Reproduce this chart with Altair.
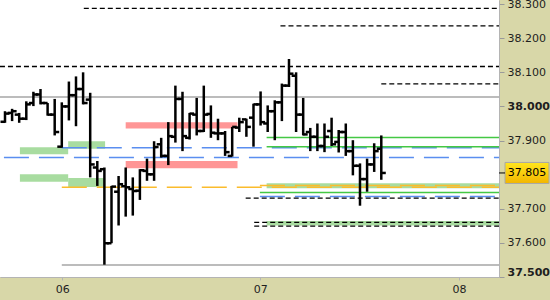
import altair as alt
import pandas as pd

# ---------------- OHLC bars (bar index 0..53) ----------------
opens = [37.955, 37.981, 37.976, 37.964, 38.010, 38.035, 38.010, 37.976, 37.882, 38.000,
         38.033, 38.051, 38.020, 37.821, 37.816, 37.599, 37.750, 37.766, 37.758, 37.753,
         37.811, 37.801, 37.889, 37.855, 37.911, 38.022, 37.908, 37.976, 37.928, 37.978,
         37.921, 37.921, 37.855, 37.938, 37.962, 37.967, 38.006, 37.950, 37.986, 38.012,
         38.061, 38.090, 37.976, 37.925, 37.911, 37.884, 37.928, 37.896, 37.925, 37.869,
         37.826, 37.787, 37.830, 37.876]
highs = [37.986, 37.993, 37.981, 38.015, 38.043, 38.051, 38.010, 38.022, 38.012, 38.073,
         38.088, 38.100, 38.040, 37.840, 37.821, 37.767, 37.796, 37.821, 37.792, 37.816,
         37.847, 37.898, 37.908, 37.954, 38.061, 38.043, 37.981, 38.025, 38.061, 38.003,
         37.964, 37.928, 37.940, 37.967, 37.964, 38.008, 38.044, 38.003, 38.018, 38.067,
         38.139, 38.100, 38.025, 37.937, 37.950, 37.950, 37.967, 37.931, 37.950, 37.901,
         37.833, 37.847, 37.892, 37.915]
lows = [37.952, 37.957, 37.952, 37.960, 38.001, 38.006, 37.973, 37.915, 37.879, 37.959,
        37.942, 38.006, 37.792, 37.767, 37.536, 37.599, 37.651, 37.677, 37.680, 37.726,
        37.782, 37.782, 37.850, 37.828, 37.894, 37.869, 37.903, 37.915, 37.925, 37.908,
        37.901, 37.855, 37.853, 37.925, 37.911, 37.882, 37.944, 37.925, 37.901, 37.957,
        38.057, 37.925, 37.915, 37.869, 37.869, 37.866, 37.884, 37.865, 37.855, 37.798,
        37.709, 37.750, 37.808, 37.785]
closes = [37.979, 37.986, 37.964, 38.006, 38.035, 38.010, 37.976, 37.925, 38.000, 38.033,
          38.051, 38.010, 37.830, 37.811, 37.599, 37.765, 37.772, 37.763, 37.752, 37.813,
          37.801, 37.881, 37.855, 37.913, 38.022, 37.913, 37.979, 37.928, 37.976, 37.923,
          37.921, 37.866, 37.940, 37.954, 37.940, 38.006, 37.954, 37.986, 38.012, 38.061,
          38.096, 37.976, 37.918, 37.911, 37.884, 37.911, 37.889, 37.925, 37.869, 37.826,
          37.787, 37.830, 37.869, 37.805]
bar_index = list(range(len(opens)))

# ---------------- axes ----------------
y_ticks = [37.5, 37.6, 37.7, 37.9, 38.0, 38.1, 38.2, 38.3]
day_pos = [8.07, 35.96, 63.94]
day_labels = ["06", "07", "08"]
last_price = [37.805]

# ---------------- horizontal levels ----------------
END = 69.6
black_dash_price = [38.2875, 38.236, 38.117, 38.066, 37.731, 37.660, 37.649]
black_dash_start = [11.1, 38.8, -0.71, 53.0, 33.9, 35.1, 35.1]
grey_price = [38.028, 37.535]
grey_start = [-0.71, 8.0]
green_line_price = [37.909, 37.882, 37.748]
green_line_start = [36.85, 36.85, 35.9]
blue_price = [37.879, 37.850, 37.736]
blue_start = [8.0, -0.15, 35.9]
orange_price = [37.763, 37.768]
orange_start = [8.0, 35.9]

red_lo = [37.935, 37.819]
red_hi = [37.954, 37.840]
red_x0 = [17.0, 17.0]
red_x1 = [32.75, 32.75]
green_lo = [37.860, 37.876, 37.779, 37.764, 37.760, 37.651]
green_hi = [37.880, 37.898, 37.801, 37.790, 37.775, 37.664]
green_x0 = [2.1, 8.9, 2.1, 8.9, 36.85, 36.85]
green_x1 = [8.9, 14.1, 8.9, 14.1, END, END]

bars = pd.DataFrame({"i": bar_index, "open": opens, "high": highs, "low": lows, "close": closes})

xs = alt.Scale(domain=[-0.704, 69.58], nice=False, zero=False)
ys = alt.Scale(domain=[37.5, 38.312], nice=False, zero=False)

lab_arr = "[" + ",".join("'%s'" % s for s in day_labels) + "]"
pos_arr = "[" + ",".join(str(p) for p in day_pos) + "]"

x_axis = alt.Axis(values=day_pos, labelExpr=f"{lab_arr}[indexof({pos_arr}, datum.value)]",
                  title=None, grid=False, domain=True, domainColor="#b4b4b4",
                  ticks=True, tickColor="#b4b4b4", tickSize=3, labelPadding=3,
                  labelFont="DejaVu Sans", labelFontSize=11, labelColor="#1e1e1e")
y_axis = alt.Axis(orient="right", values=y_ticks, format=".3f", title=None, grid=False,
                  domain=True, domainColor="#b4b4b4", tickColor="#9a9a9a", tickSize=5,
                  labelPadding=3, labelFont="DejaVu Sans", labelFontSize=11,
                  labelColor="#1e1e1e", labelFlush=True,
                  labelFontWeight={"expr": "abs(datum.value*2 - round(datum.value*2)) < 1e-6 ? 'bold' : 'normal'"})


def X(f):
    return alt.X(f, type="quantitative", scale=xs, axis=x_axis)


def Y(f):
    return alt.Y(f, type="quantitative", scale=ys, axis=y_axis)


def level_df(prices, starts):
    return pd.DataFrame({"price": prices, "x0": starts, "x1": [END] * len(prices)})


def rect_layer(lo, hi, x0, x1, color):
    df = pd.DataFrame({"lo": lo, "hi": hi, "x0": x0, "x1": x1})
    return alt.Chart(df).mark_rect(color=color, opacity=1, clip=True).encode(
        x=X("x0"), x2="x1", y=Y("lo"), y2="hi")


def line_layer(prices, starts, color, width, dash=None):
    kw = dict(color=color, strokeWidth=width, clip=True)
    if dash:
        kw["strokeDash"] = dash
    return alt.Chart(level_df(prices, starts)).mark_rule(**kw).encode(
        x=X("x0"), x2="x1", y=Y("price"))


red_rects = rect_layer(red_lo, red_hi, red_x0, red_x1, "#ff9696")
green_rects = rect_layer(green_lo, green_hi, green_x0, green_x1, "#a8dca0")

grey_lines = line_layer(grey_price, grey_start, "#a6a6a6", 1.5)
blue_lines = line_layer(blue_price, blue_start, "#5a8ef0", 1.5, [25, 10])
orange_lines = line_layer(orange_price, orange_start, "#fbbc2c", 1.5, [25, 10])
green_lines = line_layer(green_line_price, green_line_start, "#44c844", 1.5)
black_lines = line_layer(black_dash_price, black_dash_start, "black", 1.3, [5, 3])

base = alt.Chart(bars)
wick = base.mark_rule(color="black", strokeWidth=2.5).encode(x=X("i"), y=Y("low"), y2="high")
open_tick = base.mark_rule(color="black", strokeWidth=2.5, x2Offset=-4.5).encode(
    x=X("i"), x2="i", y=Y("open"))
close_tick = base.mark_rule(color="black", strokeWidth=2.5, x2Offset=4.5).encode(
    x=X("i"), x2="i", y=Y("close"))

last_df = pd.DataFrame({"price": last_price})
grad = alt.LinearGradient(gradient="linear",
                          stops=[alt.GradientStop(color="#ffe61e", offset=0),
                                 alt.GradientStop(color="#f3b600", offset=1)],
                          x1=0, x2=0, y1=0, y2=1)
last_box = alt.Chart(last_df).mark_rect(fill=grad, stroke="#a8a8a8", strokeWidth=1,
                                        yOffset=-10.5, y2Offset=10.5).encode(
    x=alt.value(505), x2=alt.value(549), y=Y("price"), y2="price")
last_tick = alt.Chart(last_df).mark_rule(color="black", strokeWidth=1).encode(
    x=alt.value(499), x2=alt.value(505), y=Y("price"))
last_text = alt.Chart(last_df).mark_text(font="DejaVu Sans", fontSize=11, color="black",
                                         align="center", baseline="middle").encode(
    x=alt.value(527), y=Y("price"), text=alt.Text("price:Q", format=".3f"))

chart = alt.layer(
    red_rects, green_rects, grey_lines, blue_lines, orange_lines, green_lines, black_lines,
    wick, open_tick, close_tick, last_box, last_tick, last_text
).properties(
    width=499, height=277, background="#d8d7a8",
    padding={"left": 0, "top": 0, "right": 51, "bottom": 23},
    autosize=alt.AutoSizeParams(type="none"),
).configure_view(fill="white", stroke=None)

chart.save("out.html", embed_options={"renderer": "svg", "actions": False})
